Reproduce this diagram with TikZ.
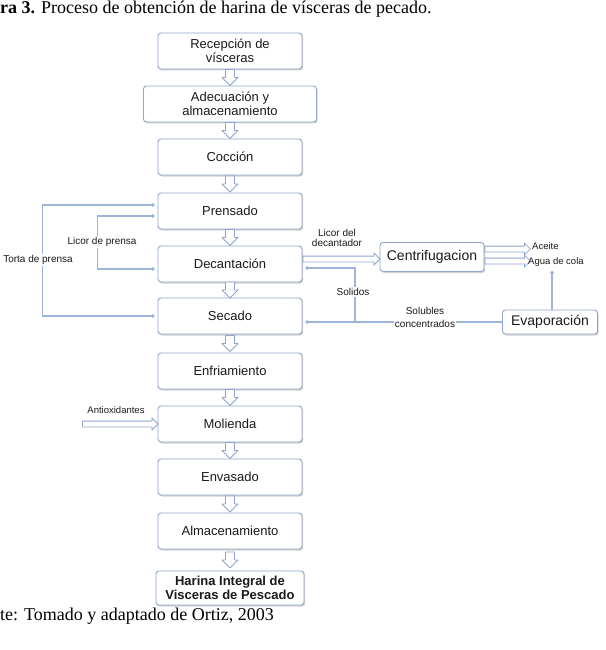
\documentclass[tikz,border=0pt]{standalone}
\usepackage{fontspec}
\setmainfont{Liberation Serif}
\newfontfamily\arialf{Liberation Sans}
\usetikzlibrary{arrows.meta,shapes.arrows,shadows,calc}
\definecolor{bxc}{HTML}{8FA5CC}
\definecolor{lnc}{HTML}{A0B3D8}
\definecolor{txc}{HTML}{1A1A1A}
\tikzset{
 box/.style={draw=bxc, line width=0.9pt, rounded corners=3pt, fill=white, minimum width=144pt, minimum height=36pt, inner sep=1pt, align=center, text=txc, font=\arialf\fontsize{13}{14}\selectfont, drop shadow={shadow xshift=1.2pt, shadow yshift=-1.5pt, opacity=0.3, fill=black!60}},
 conn/.style={draw=lnc, line width=1.2pt, shorten >=3pt, shorten <=3pt},
 dotend/.style={-{Circle[length=3.5pt]}},
 dotboth/.style={{Circle[length=3.5pt]}-{Circle[length=3.5pt]}},
 lbl/.style={font=\arialf\fontsize{10}{11}\selectfont, text=txc, align=center, fill=white, inner sep=1pt},
 slbl/.style={font=\arialf\fontsize{9.5}{10}\selectfont, text=txc, align=center, inner sep=1pt},
 hollow/.style={single arrow, draw=bxc, fill=white, line width=0.8pt, inner sep=0pt, inner ysep=2.5pt, single arrow head extend=3pt},
 harrow/.style={to path={let \p1=(\tikztostart), \p2=(\tikztotarget), \n1={veclen(\x2-\x1,\y2-\y1)} in (\tikztostart) node[hollow, minimum height=\n1, anchor=tail] {}}},
 pics/dnarrow/.style={code={\draw[bxc, fill=white, line width=0.9pt, line join=round] (-4.5,-8) -- (4.5,-8) -- (4.5,0) -- (8,0) -- (0,8) -- (-8,0) -- (-4.5,0) -- cycle;}}
}
\begin{document}
\begin{tikzpicture}[x=1pt,y=-1pt]
\useasboundingbox (0,0) rectangle (605,650);
\clip (0,0) rectangle (605,650);
\fill[white] (0,0) rectangle (605,650);

% caption and source
\node[anchor=base west, inner sep=0pt, font=\fontsize{18}{20}\selectfont] (cap) at (0,14) {\llap{\textbf{Figu}}\textbf{ra 3.} Proceso de obtención de harina de vísceras de pecado.};
\node[anchor=base west, inner sep=0pt, font=\fontsize{18}{20}\selectfont] (src) at (0,620) {\llap{Fuen}te: Tomado y adaptado de Ortiz, 2003};

% main boxes
\node[box] (rec) at (230,51) {Recepción de\\vísceras};
\node[box, minimum width=173pt] (ade) at (230,104) {Adecuación y\\almacenamiento};
\node[box] (coc) at (230,157) {Cocción};
\node[box] (pre) at (230,211) {Prensado};
\node[box] (dec) at (230,264) {Decantación};
\node[box] (sec) at (230,316) {Secado};
\node[box] (enf) at (230,371) {Enfriamiento};
\node[box] (mol) at (230,424) {Molienda};
\node[box] (env) at (230,477) {Envasado};
\node[box] (alm) at (230,531) {Almacenamiento};
\node[box, minimum width=148pt, minimum height=34pt, font=\arialf\bfseries\fontsize{13}{13.5}\selectfont] (har) at (230,588) {Harina Integral de\\Visceras de Pescado};

\node[box, minimum width=104pt, minimum height=29pt, font=\arialf\fontsize{14}{15}\selectfont] (cen) at (432,257) {Centrifugacion};
\node[box, minimum width=95pt, minimum height=24pt, font=\arialf\fontsize{14}{15}\selectfont] (eva) at (550,322) {Evaporación};

% down block arrows
\foreach \a/\b in {rec/ade,ade/coc,coc/pre,pre/dec,dec/sec,sec/enf,enf/mol,mol/env,env/alm,alm/har}
  \pic at ($(\a.south)!0.5!(\b.north)$) {dnarrow};

% left loops
\draw[conn, dotboth] (sec.west) -- ++(-115,0) |- ($(pre.west)+(0,-6)$);
\draw[conn, dotboth] ($(pre.west)+(0,5)$) -- ++(-60,0) |- ($(dec.west)+(0,5)$);
\node[lbl] (torta) at (38,260) {Torta de prensa};
\node[lbl] (licp) at (102,242) {Licor de prensa};

% right side
\coordinate (solj) at (355,322);
\draw[conn, dotend, shorten <=0pt] (eva.west) -- (sec.east |- eva.west);
\draw[conn, dotend, shorten <=0pt] (solj) |- ($(dec.east)+(0,4)$);
\node[lbl] (sol) at (353,292) {Solidos};
\node[lbl, font=\arialf\fontsize{10}{13}\selectfont] (solub) at (425,317) {Solubles\\concentrados};

\coordinate (aguadot) at (552,271);
\draw[conn, dotend, shorten <=0pt, shorten >=0pt] (eva.north -| aguadot) -- (aguadot);

\coordinate (c1) at ($(dec.east)+(0,-5)$);
\path (c1) to[harrow] (cen.west |- c1);
\node[lbl, fill=none, font=\arialf\fontsize{10}{10.5}\selectfont] (licd) at (337,238) {Licor del\\decantador};

\coordinate (aceT) at (530,249);
\coordinate (aguaT) at (530,261);
\path (cen.east |- aceT) to[harrow] (aceT);
\path (cen.east |- aguaT) to[harrow] (aguaT);
\node[slbl, anchor=west] (acei) at (531,246) {Aceite};
\node[slbl, anchor=west] (agua) at (527,262) {Agua de cola};

\coordinate (antT) at (82,424);
\path (antT) to[harrow] (mol.west);
\node[slbl] (anti) at (116,410) {Antioxidantes};
\end{tikzpicture}
\end{document}
